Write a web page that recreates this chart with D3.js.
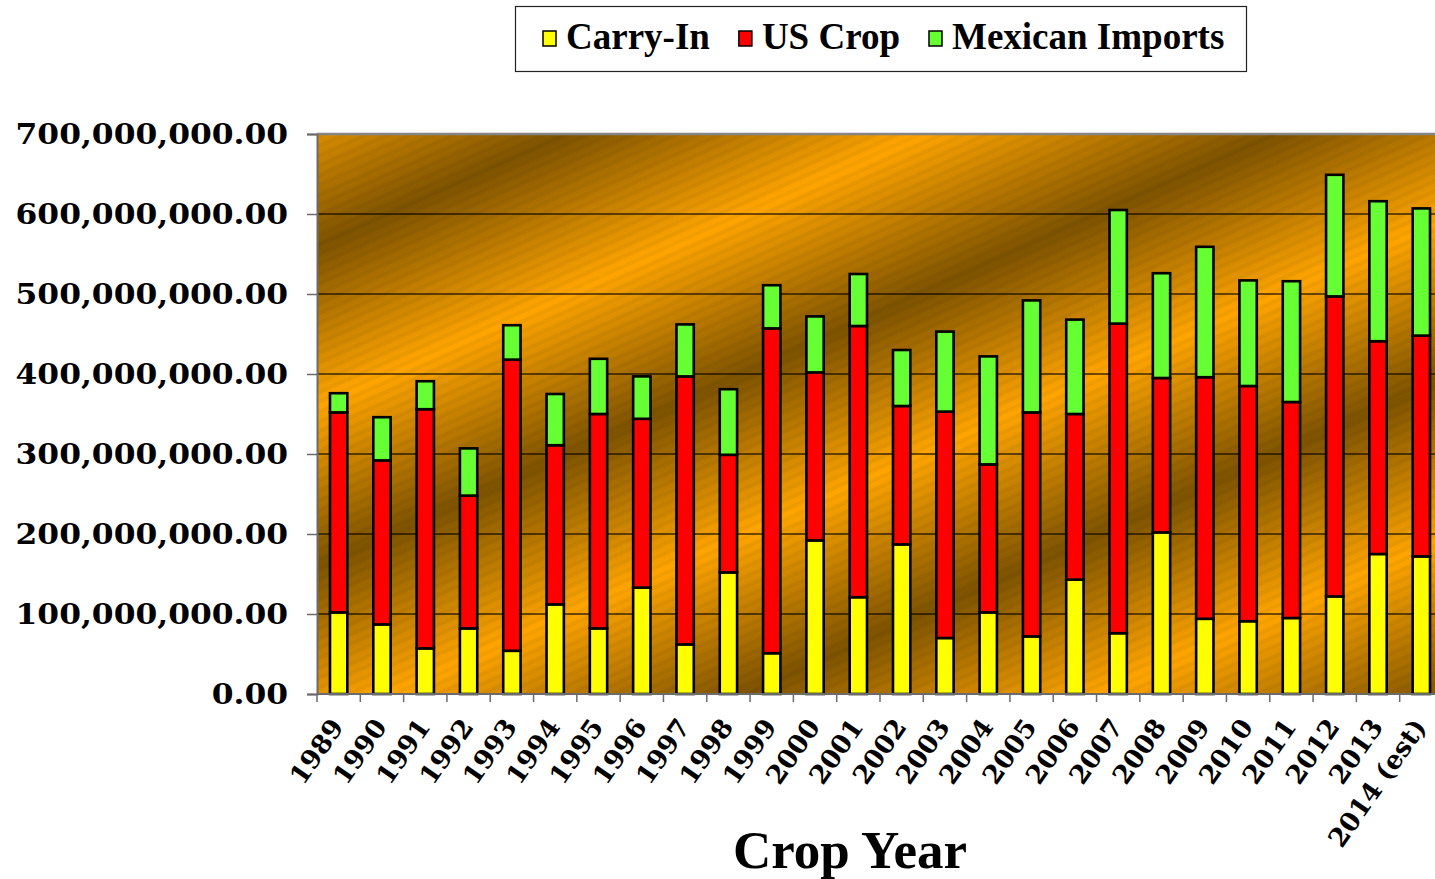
<!DOCTYPE html>
<html lang="en">
<head>
<meta charset="utf-8">
<title>Crop Year supply</title>
<script src="https://cdnjs.cloudflare.com/ajax/libs/d3/7.8.5/d3.min.js"></script>
<style>
  body { margin: 0; background: #fff; }
  svg { display: block; }
</style>
</head>
<body>
<div id="chart"></div>
<script>
// crop years on the x axis
var years = ["1989", "1990", "1991", "1992", "1993", "1994", "1995", "1996", "1997", "1998",
             "1999", "2000", "2001", "2002", "2003", "2004", "2005", "2006", "2007", "2008",
             "2009", "2010", "2011", "2012", "2013", "2014 (est)"];

// series
var carryIn = [102000000, 87000000, 57000000, 82000000, 54000000, 112000000, 82000000, 133000000, 62000000, 152000000,
               51000000, 192000000, 121000000, 187000000, 70000000, 102000000, 72000000, 143000000, 76000000, 202000000,
               94000000, 91000000, 95000000, 122000000, 175000000, 172000000];
var usCrop = [250000000, 205000000, 299000000, 166000000, 364000000, 199000000, 268000000, 211000000, 335000000, 147000000,
              406000000, 210000000, 339000000, 173000000, 283000000, 185000000, 280000000, 207000000, 387000000, 193000000,
              302000000, 294000000, 270000000, 375000000, 266000000, 276000000];
var mexicanImports = [24000000, 54000000, 35000000, 59000000, 43000000, 64000000, 69000000, 53000000, 65000000, 82000000,
                      54000000, 70000000, 65000000, 70000000, 100000000, 135000000, 140000000, 118000000, 142000000, 131000000,
                      163000000, 132000000, 151000000, 152000000, 175000000, 159000000];

var seriesNames = ["Carry-In", "US Crop", "Mexican Imports"];
var seriesColors = ["#ffff00", "#ff0000", "#66ff33"];
var yTicks = [0, 100000000, 200000000, 300000000, 400000000, 500000000, 600000000, 700000000];

var width = 1435, height = 879;
var plot = { left: 317, right: 1443, top: 134, bottom: 694 };

var svg = d3.select("#chart").append("svg")
    .attr("width", width)
    .attr("height", height);

var defs = svg.append("defs");

// diagonal gold/brown banded fill
var grad = defs.append("linearGradient")
    .attr("id", "gold")
    .attr("gradientUnits", "userSpaceOnUse")
    .attr("spreadMethod", "reflect")
    .attr("x1", 0).attr("y1", 390)
    .attr("x2", 60).attr("y2", 523);
grad.append("stop").attr("offset", 0).attr("stop-color", "#7e5300");
grad.append("stop").attr("offset", 1).attr("stop-color", "#ffa500");

var stripes = defs.append("pattern")
    .attr("id", "stripes")
    .attr("patternUnits", "userSpaceOnUse")
    .attr("width", 9).attr("height", 9)
    .attr("patternTransform", "rotate(-24)");
stripes.append("rect").attr("width", 9).attr("height", 4).attr("fill", "#000").attr("opacity", 0.04);

var data = years.map(function (y, i) {
  return { year: y, "Carry-In": carryIn[i], "US Crop": usCrop[i], "Mexican Imports": mexicanImports[i] };
});
var stacked = d3.stack().keys(seriesNames)(data);

var xCat = d3.scaleBand().domain(years).range([plot.left, plot.right]).padding(0);
var x = d3.scaleBand().domain(years).range([plot.left, plot.right])
    .paddingInner(0.6).paddingOuter(0.3);
var y = d3.scaleLinear().domain([0, 700000000]).range([plot.bottom, plot.top]);
var color = d3.scaleOrdinal().domain(seriesNames).range(seriesColors);

// plot background
svg.append("rect")
    .attr("x", plot.left).attr("y", plot.top)
    .attr("width", plot.right - plot.left).attr("height", plot.bottom - plot.top)
    .attr("fill", "url(#gold)");
svg.append("rect")
    .attr("x", plot.left).attr("y", plot.top)
    .attr("width", plot.right - plot.left).attr("height", plot.bottom - plot.top)
    .attr("fill", "url(#stripes)");

// gridlines
svg.append("g")
  .selectAll("line")
  .data(yTicks.filter(function (d) { return d > 0 && d < 700000000; }))
  .enter().append("line")
    .attr("x1", plot.left).attr("x2", plot.right)
    .attr("y1", function (d) { return y(d); })
    .attr("y2", function (d) { return y(d); })
    .attr("stroke", "#000")
    .attr("stroke-opacity", 0.75)
    .attr("stroke-width", 1.4);

// bars
svg.append("g")
  .selectAll("g")
  .data(stacked)
  .enter().append("g")
    .attr("fill", function (d) { return color(d.key); })
  .selectAll("rect")
  .data(function (d) { return d; })
  .enter().append("rect")
    .attr("x", function (d) { return x(d.data.year); })
    .attr("width", x.bandwidth())
    .attr("y", function (d) { return y(d[1]); })
    .attr("height", function (d) { return y(d[0]) - y(d[1]); })
    .attr("stroke", "#000")
    .attr("stroke-width", 2.6);

// frame lines
svg.append("line")
    .attr("x1", plot.left).attr("x2", plot.right)
    .attr("y1", plot.top).attr("y2", plot.top)
    .attr("stroke", "#858585").attr("stroke-width", 2.5);

// y axis
var yAxis = svg.append("g")
    .attr("transform", "translate(" + plot.left + ",0)")
    .call(d3.axisLeft(y).tickValues(yTicks).tickFormat(d3.format(",.2f")).tickSize(10).tickPadding(19));
yAxis.select(".domain").attr("stroke", "#6b6b6b").attr("stroke-width", 2);
yAxis.selectAll(".tick line").attr("stroke", "#6b6b6b").attr("stroke-width", 1.5);
yAxis.selectAll("text")
    .attr("font-family", "'DejaVu Serif', serif")
    .attr("font-weight", "bold")
    .attr("font-size", 27)
    .attr("fill", "#000")
    .attr("dy", "0.35em")
    .each(function () {
      var w = this.getComputedTextLength();
      d3.select(this).attr("textLength", w * 1.16).attr("lengthAdjust", "spacingAndGlyphs");
    });

// x axis: ticks between categories, rotated labels
var xAxis = svg.append("g");
xAxis.append("line")
    .attr("x1", plot.left).attr("x2", plot.right)
    .attr("y1", plot.bottom).attr("y2", plot.bottom)
    .attr("stroke", "#6b6b6b").attr("stroke-width", 2);
xAxis.selectAll(".xtick")
  .data(years.concat(["end"]))
  .enter().append("line")
    .attr("class", "xtick")
    .attr("x1", function (d, i) { return plot.left + i * xCat.step(); })
    .attr("x2", function (d, i) { return plot.left + i * xCat.step(); })
    .attr("y1", plot.bottom).attr("y2", plot.bottom + 8)
    .attr("stroke", "#6b6b6b").attr("stroke-width", 1.5);
xAxis.selectAll(".xlabel")
  .data(years)
  .enter().append("text")
    .attr("class", "xlabel")
    .attr("transform", function (d) {
      return "translate(" + (xCat(d) + xCat.bandwidth() / 2 + 6) + "," + (plot.bottom + 33) + ") rotate(-55)";
    })
    .attr("text-anchor", "end")
    .attr("font-family", "'DejaVu Serif', serif")
    .attr("font-weight", "bold")
    .attr("font-size", 26)
    .text(function (d) { return d; });

// axis title
svg.append("text")
    .attr("x", 850).attr("y", 868)
    .attr("text-anchor", "middle")
    .attr("font-family", "'Liberation Serif', serif")
    .attr("font-weight", "bold")
    .attr("font-size", 53)
    .text("Crop Year");

// legend
var legend = svg.append("g");
legend.append("rect")
    .attr("x", 515.5).attr("y", 6.5)
    .attr("width", 731).attr("height", 65)
    .attr("fill", "#fff")
    .attr("stroke", "#222").attr("stroke-width", 1.2);
var lx = 543;
seriesNames.forEach(function (name) {
  legend.append("rect")
      .attr("x", lx).attr("y", 31)
      .attr("width", 13).attr("height", 15)
      .attr("fill", color(name))
      .attr("stroke", "#000").attr("stroke-width", 1.5);
  var t = legend.append("text")
      .attr("x", lx + 23).attr("y", 49)
      .attr("font-family", "'Liberation Serif', serif")
      .attr("font-weight", "bold")
      .attr("font-size", 37)
      .text(name);
  lx += 23 + t.node().getComputedTextLength() + 29;
});
</script>
</body>
</html>
